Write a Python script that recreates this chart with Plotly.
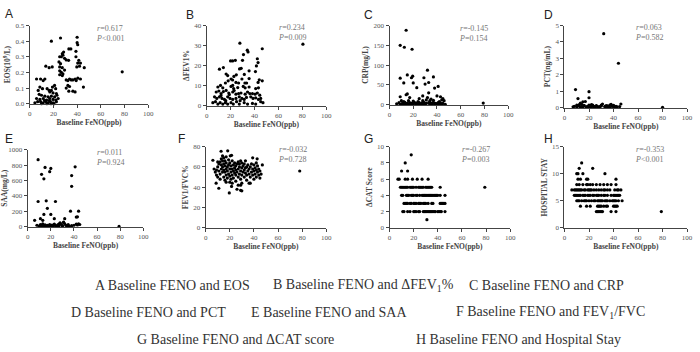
import plotly.graph_objects as go

# ---------------- data ----------------
# A: Baseline FeNO (ppb) vs EOS (10^9/L)
a_points = [(18.3,0.40),(26,0.42),(40,0.425),(40,0.39),(40.5,0.377),(33,0.35),(34.7,0.35),(39,0.335),
            (27.5,0.32),(28.6,0.33),(25.3,0.30),(26.7,0.30),(28,0.31),(29.4,0.29),(39,0.30),(30.8,0.28),
            (32.8,0.277),(24.7,0.267),(26,0.256),(41.4,0.277),(40.5,0.26),(42.8,0.26),(39.7,0.235),(42,0.24),
            (46,0.23),(13.6,0.24),(16.4,0.23),(19,0.235),(25.3,0.235),(27.5,0.23),(25.3,0.21),(26.7,0.20),
            (28,0.19),(29.4,0.215),(25.3,0.185),(27.5,0.18),(5.8,0.158),(9.2,0.158),(11.4,0.148),(12.8,0.158),
            (30.8,0.152),(32.2,0.148),(33.6,0.158),(35,0.152),(36.4,0.152),(38.3,0.158),(39.2,0.148),(40.6,0.163),
            (42.8,0.158),(19.2,0.106),(21,0.117),(8.6,0.106),(10.8,0.096),(7.2,0.085),(14.7,0.096),(16.4,0.085),
            (18.3,0.085),(21.9,0.096),(32.2,0.117),(33.6,0.11),(30.8,0.10),(45.3,0.106),(33,0.08),(36.4,0.08),
            (38.3,0.075),(17,0.075),(19.7,0.069),(22.5,0.065),(8,0.06),(10,0.054),(12.8,0.048),(15.5,0.044),
            (18.3,0.048),(21,0.044),(23,0.054),(5.8,0.033),(8.6,0.027),(11.4,0.033),(14.2,0.023),(16.9,0.033),
            (19.7,0.027),(22,0.023),(24,0.033),(4.4,0.006),(6.7,0.013),(9.2,0.013),(11.4,0.006),(13.6,0.013),
            (15.5,0.006),(17.5,0.013),(19.7,0.006),(22.5,0.013),(10,0.0),(12.5,0.02),(14.5,0.0),(16.5,0.02),
            (20.5,0.0),(18,0.0),(78,0.204)]

# B: Baseline FeNO vs ΔFEV1%
b_points = [(80.5,30.7),(27.8,31.2),(34,27.7),(34.6,26.8),(46.5,28.4),(30.8,25.5),(42.4,23.4),(20,22.3),
            (21.7,22.3),(24,22.6),(30,22.6),(43,21.5),(10.7,18.2),(14,19),(27.5,18.3),(28.9,18.6),(35.5,17.4),
            (41.6,19.8),(40.8,17),(16.3,15.8),(17.6,15),(24.8,15.4),(22.8,14.6),(31.5,15.6),(20.4,13.3),
            (21.7,12.8),(29.5,13.3),(35.5,13.5),(44,12.9),(43,11.6),(46.5,12.4),(15.7,11.3),(18,12.4),
            (24.5,11.6),(26.7,11.3),(32,11.3),(33.4,11.3),(9.4,9.3),(11.6,10.1),(13.5,8.9),(20.4,9.6),
            (21.8,10.1),(22.6,8.5),(30.6,9.6),(32.2,8.9),(35.5,9.3),(41,8.5),(43.3,8.9),(8,6.8),(10.2,7.3),
            (12.1,6),(16.3,7.6),(18.5,6.3),(21.8,6.8),(24.5,5.7),(26.7,6),(28.7,6.3),(32.2,5.7),(34.2,6.8),
            (36.1,6),(38.3,6),(40.5,5.7),(42.4,6.3),(44.4,5.2),(6.6,4.4),(8.5,3.6),(10.7,4.4),(12.9,3.6),
            (14.9,3.1),(17.6,4.4),(19.6,3.6),(21.8,3.1),(24.5,3.6),(27.3,4.4),(29.5,3.6),(31.4,3.1),(33.3,4.1),
            (36.9,4.4),(38.8,3.6),(41,3.9),(43.3,3.1),(45.2,3.6),(5.2,1.5),(7.4,2),(9.4,0.8),(11.3,1.5),
            (13.5,0.8),(15.7,1.5),(17.6,0.8),(20.4,1.5),(22.3,0.8),(25,2),(27.3,0.8),(31.4,1.5),(34.2,0.8),
            (38.3,1.1),(41,0.8),(45.2,2),(47.1,1.5),(12,5),(14,7),(16,2.5),(19,5.5),(23,7.5),(26,9),(28,2.5)]

# C: Baseline FeNO vs CRP (mg/L)
c_points = [(14,188),(9,150),(12.5,145),(19,140),(32,87),(15,75),(9,67),(19.5,72),(18.5,68),(29,68),
            (37,70),(12,55),(20,55),(33,56),(41,46),(23,43),(38,42),(30,52),(15,27),(14,25),(33,30),(28,22),
            (32,18),(40,22),(43,20),(9,20),(17,18),(25,15),(35,14),(45,15),(10,10),(12,8),(16,10),(20,9),
            (24,8),(28,10),(31,12),(34,10),(37,11),(42,8),(44,12),(46,10),(8,5),(11,4),(13,6),(15,3),(17,5),
            (19,4),(21,6),(23,3),(25,5),(27,4),(29,6),(31,3),(33,5),(35,4),(37,6),(39,3),(41,5),(43,4),(45,3),
            (6,2),(9,1),(12,1),(14,2),(18,1),(22,2),(26,1),(30,2),(34,1),(38,2),(42,1),(47,1),(79,4),(10,0.5),
            (16,0.5),(20,0.5),(24,0.5),(28,0.5),(36,0.5),(40,0.5),(44,0.5)]

# D: Baseline FeNO vs PCT (ng/mL)
d_points = [(32,4.5),(44,2.7),(9,1.1),(20,0.97),(20,0.6),(11,0.55),(15,0.35),(17,0.37),(13,0.28),(46,0.22),
            (38,0.2),(31,0.22),(80,0.02),(7,0.05),(8,0.08),(10,0.03),(12,0.1),(14,0.06),(16,0.12),(18,0.04),
            (19,0.08),(21,0.1),(22,0.05),(23,0.15),(24,0.07),(25,0.03),(26,0.09),(27,0.05),(28,0.04),(29,0.06),
            (30,0.1),(33,0.08),(34,0.12),(35,0.05),(36,0.03),(37,0.15),(39,0.07),(40,0.1),(41,0.05),(42,0.08),
            (43,0.04),(45,0.06),(10,0.15),(12,0.18),(14,0.2),(16,0.12),(18,0.02),(20,0.15),(22,0.18),(26,0.12),
            (30,0.15),(35,0.1),(40,0.13),(13,0.02),(15,0.01),(19,0.03),(21,0.02),(24,0.01),(28,0.02),(33,0.03),
            (37,0.01),(41,0.02)]

# E: Baseline FeNO vs SAA (mg/L)
e_points = [(9,870),(15,769),(12,680),(14,622),(19,714),(20,756),(41,777),(38,664),(38,525),(9,328),(16,336),
            (24,328),(17,240),(37,202),(44,202),(14,160),(20,160),(6,84),(11,105),(13,84),(23,105),(32,105),
            (42,126),(43,130),(79,5),(8,20),(10,10),(11,30),(12,15),(13,40),(14,5),(15,25),(16,12),(17,18),
            (18,8),(19,30),(20,15),(21,22),(22,10),(23,35),(24,18),(25,8),(26,25),(27,15),(28,50),(29,30),
            (30,12),(31,60),(32,40),(33,20),(34,10),(35,30),(36,8),(38,15),(40,20),(42,35),(43,25),(44,40),
            (45,30),(10,5),(14,8),(18,5),(22,10),(26,5),(30,8),(34,5),(28,45),(31,55),(27,35)]

# F: Baseline FeNO vs FEV1/FVC%
f_points = [(6,66.6),(12.8,75.5),(18.3,75.9),(20.4,71),(21.5,71.5),(8.7,44),(10.9,39),(19.6,34.4),(21.5,40.8),
            (29,42),(30,44),(29,37),(30,36.5),(45,49),(39,69),(42.7,68),(78,56),(8,55),(9,57),(9,52),(10,50),
            (10,60),(11,63),(11,56),(12,53),(12,65),(13,58),(13,62),(13,68),(14,55),(14,60),(14,66),(15,50),
            (15,57),(15,63),(15,69),(16,47),(16,55),(16,61),(16,66),(17,52),(17,58),(17,64),(17,70),(18,49),
            (18,56),(18,60),(19,53),(19,62),(19,67),(20,45),(20,51),(20,58),(20,64),(21,48),(21,55),(21,61),
            (22,52),(22,58),(22,66),(23,49),(23,56),(23,62),(24,54),(24,59),(24,64),(25,46),(25,52),(25,57),
            (25,61),(26,55),(26,63),(27,50),(27,58),(27,65),(28,53),(28,60),(28,63),(29,48),(29,56),(29,66),
            (30,52),(30,59),(30,64),(31,55),(31,61),(32,50),(32,57),(32,63),(33,54),(33,59),(33,66),(34,47),
            (34,52),(34,60),(35,56),(35,62),(36,44),(36,53),(36,58),(37,50),(37,60),(37,44),(38,55),(38,63),
            (39,52),(39,58),(40,48),(40,56),(40,62),(41,53),(41,59),(42,50),(42,57),(42,64),(43,55),(43,61),
            (44,52),(44,58),(45,56),(46,53),(47,62),(7,58),(10,65),(12,48),(14,71),(27,42),(26,38),(22,44),(17,45)]

# G: Baseline FeNO vs ΔCAT score (FeNO values for each score)
g_rows = {9: [18],
          8: [13],
          7: [10, 15],
          6: [7, 8, 13, 15, 19, 23, 27, 32],
          5: [9, 10, 11, 12, 13, 14, 15, 17, 18, 19, 20, 22, 24, 25, 26, 27, 28, 30, 31, 32, 33, 34, 35, 42, 79],
          4: [10, 11, 14, 15, 16, 18, 19, 20, 22, 23, 25, 27, 28, 29, 30, 31, 32, 33, 34, 35, 36, 37, 38, 39, 40, 42, 46],
          3: [12, 13, 14, 15, 17, 18, 20, 21, 22, 24, 25, 26, 28, 29, 30, 32, 35, 36, 42, 43, 44, 45, 46],
          2: [11, 12, 15, 17, 20, 21, 22, 24, 25, 28, 29, 30, 31, 32, 33, 34, 35, 36, 37, 38, 40, 41, 42, 43, 46],
          1: [31]}

# H: Baseline FeNO vs hospital stay (FeNO values for each stay length)
h_rows = {12: [14],
          11: [12, 23],
          10: [10, 11, 15, 33],
          9: [11, 13, 18, 19, 42],
          8: [10, 12, 15, 18, 19, 21, 23, 26, 29, 32, 35, 38, 42],
          7: [6, 8, 9, 10, 11, 12, 13, 14, 16, 17, 19, 20, 21, 22, 24, 26, 28, 30, 32, 33, 35, 37, 41, 43, 44, 46],
          6: [8, 9, 10, 11, 12, 13, 15, 16, 17, 19, 20, 21, 23, 24, 26, 27, 28, 30, 32, 33, 35, 38, 40, 41, 42, 43, 44, 45],
          5: [10, 11, 12, 14, 16, 17, 18, 20, 22, 24, 25, 27, 28, 29, 30, 31, 33, 34, 35, 37, 39, 40, 41, 42, 44, 47],
          4: [13, 18, 21, 27, 28, 29, 30, 32, 34, 35, 40, 41, 42, 43],
          3: [26, 27, 28, 29, 30, 31, 38, 42, 79]}

panel_letters = ["A", "B", "C", "D", "E", "F", "G", "H"]
y_titles = ["EOS(10<sup>9</sup>/L)", "ΔFEV1%", "CRP(mg/L)", "PCT(ng/mL)",
            "SAA(mg/L)", "FEV1/FVC%", "ΔCAT Score", "HOSPITAL STAY"]
y_ticks = [[0.0, 0.1, 0.2, 0.3, 0.4, 0.5], [0, 10, 20, 30, 40], [0, 50, 100, 150, 200], [0, 1, 2, 3, 4, 5],
           [0, 200, 400, 600, 800, 1000], [0, 20, 40, 60, 80], [0, 2, 4, 6, 8, 10], [0, 5, 10, 15]]
y_tick_text = [["0.0", "0.1", "0.2", "0.3", "0.4", "0.5"], ["0", "10", "20", "30", "40"],
               ["0", "50", "100", "150", "200"], ["0", "1", "2", "3", "4", "5"],
               ["0", "200", "400", "600", "800", "1000"], ["0", "20", "40", "60", "80"],
               ["0", "2", "4", "6", "8", "10"], ["0", "5", "10", "15"]]
x_ticks = [0, 20, 40, 60, 80, 100]
x_title = "Baseline FeNO(ppb)"
r_values = ["0.617", "0.234", "-0.145", "0.063", "0.011", "-0.032", "-0.267", "-0.353"]
p_values = ["&lt;0.001", "=0.009", "=0.154", "=0.582", "=0.924", "=0.728", "=0.003", "&lt;0.001"]
captions = [["A Baseline FENO and EOS", "B Baseline FENO and ΔFEV<sub>1</sub>%", "C Baseline FENO and CRP"],
            ["D Baseline FENO and PCT", "E Baseline FENO and SAA", "F Baseline FENO and FEV<sub>1</sub>/FVC"],
            ["G Baseline FENO and ΔCAT score", "H Baseline FENO and Hospital Stay"]]


def unzip(points):
    return [p[0] for p in points], [p[1] for p in points]


def unrows(rows):
    xs, ys = [], []
    for score, fenos in rows.items():
        for f in fenos:
            xs.append(f)
            ys.append(score)
    return xs, ys


series = [unzip(a_points), unzip(b_points), unzip(c_points), unzip(d_points),
          unzip(e_points), unzip(f_points), unrows(g_rows), unrows(h_rows)]

# ---------------- layout geometry (pixels) ----------------
W, H = 700, 352
boxes = [(28, 148, 22, 102), (207, 328, 22, 104), (392, 512, 22, 103), (569, 693, 22, 106),
         (26, 143, 149, 228), (206, 328, 146, 229), (392, 514, 146, 229), (569, 693, 146, 229)]
letter_pos = [(1, 10), (184, 11), (364, 11), (546, 11), (1, 138), (176, 138), (364, 138), (546, 138)]
rp_x = [0.54, 0.58, 0.57, 0.556, 0.57, 0.58, 0.574, 0.556]
caption_pos = [[(92, 288), (272, 288), (470, 288)],
               [(68, 316), (250, 316), (457, 316)],
               [(135, 343), (417, 343)]]

SERIF = "Liberation Serif"
fig = go.Figure()
annotations = []
layout = {}
for i in range(8):
    n = "" if i == 0 else str(i + 1)
    xs, ys = series[i]
    fig.add_trace(go.Scatter(x=xs, y=ys, mode="markers", xaxis="x" + n, yaxis="y" + n,
                             marker=dict(size=3.2, color="black"), cliponaxis=False,
                             showlegend=False, hoverinfo="x+y"))
    x0, x1, yt, yb = boxes[i]
    axis_common = dict(showline=True, linecolor="#444", linewidth=1, ticks="outside", ticklen=3,
                       tickwidth=1, tickcolor="#444", showgrid=False, zeroline=False,
                       tickfont=dict(family=SERIF, size=7, color="#555"))
    layout["xaxis" + n] = dict(domain=[x0 / W, x1 / W], anchor="y" + n, range=[0, 100],
                               tickmode="array", tickvals=x_ticks,
                               ticktext=[str(v) for v in x_ticks],
                               title=dict(text=x_title, standoff=0,
                                          font=dict(family=SERIF, size=7.5, color="#444", weight="bold")),
                               **axis_common)
    yt_vals = y_ticks[i]
    layout["yaxis" + n] = dict(domain=[1 - yb / H, 1 - yt / H], anchor="x" + n,
                               range=[yt_vals[0], yt_vals[-1]], tickmode="array",
                               tickvals=yt_vals, ticktext=y_tick_text[i],
                               title=dict(text=y_titles[i], standoff=3,
                                          font=dict(family=SERIF, size=7.5, color="#444", weight="bold")),
                               **axis_common)
    annotations.append(dict(xref="x" + n + " domain", yref="y" + n + " domain", x=rp_x[i], y=1.05,
                            xanchor="left", yanchor="top", showarrow=False, align="left",
                            text="<i>r</i>=" + r_values[i] + "<br><i>P</i>" + p_values[i],
                            font=dict(family=SERIF, size=8, color="#777")))
    lx, ly = letter_pos[i]
    annotations.append(dict(xref="paper", yref="paper", x=lx / W, y=1 - ly / H, xanchor="left",
                            yanchor="middle", showarrow=False, text=panel_letters[i],
                            font=dict(family="Liberation Sans", size=12, color="#222")))

for row, poss in zip(captions, caption_pos):
    for text, (px, py) in zip(row, poss):
        annotations.append(dict(xref="paper", yref="paper", x=px / W, y=1 - py / H, xanchor="left",
                                yanchor="middle", showarrow=False, text=text,
                                font=dict(family=SERIF, size=14, color="#333")))

fig.update_layout(width=W, height=H, margin=dict(l=0, r=0, t=0, b=0), paper_bgcolor="white",
                  plot_bgcolor="white", annotations=annotations, **layout)
fig.write_html("out.html", config={"displayModeBar": False})
